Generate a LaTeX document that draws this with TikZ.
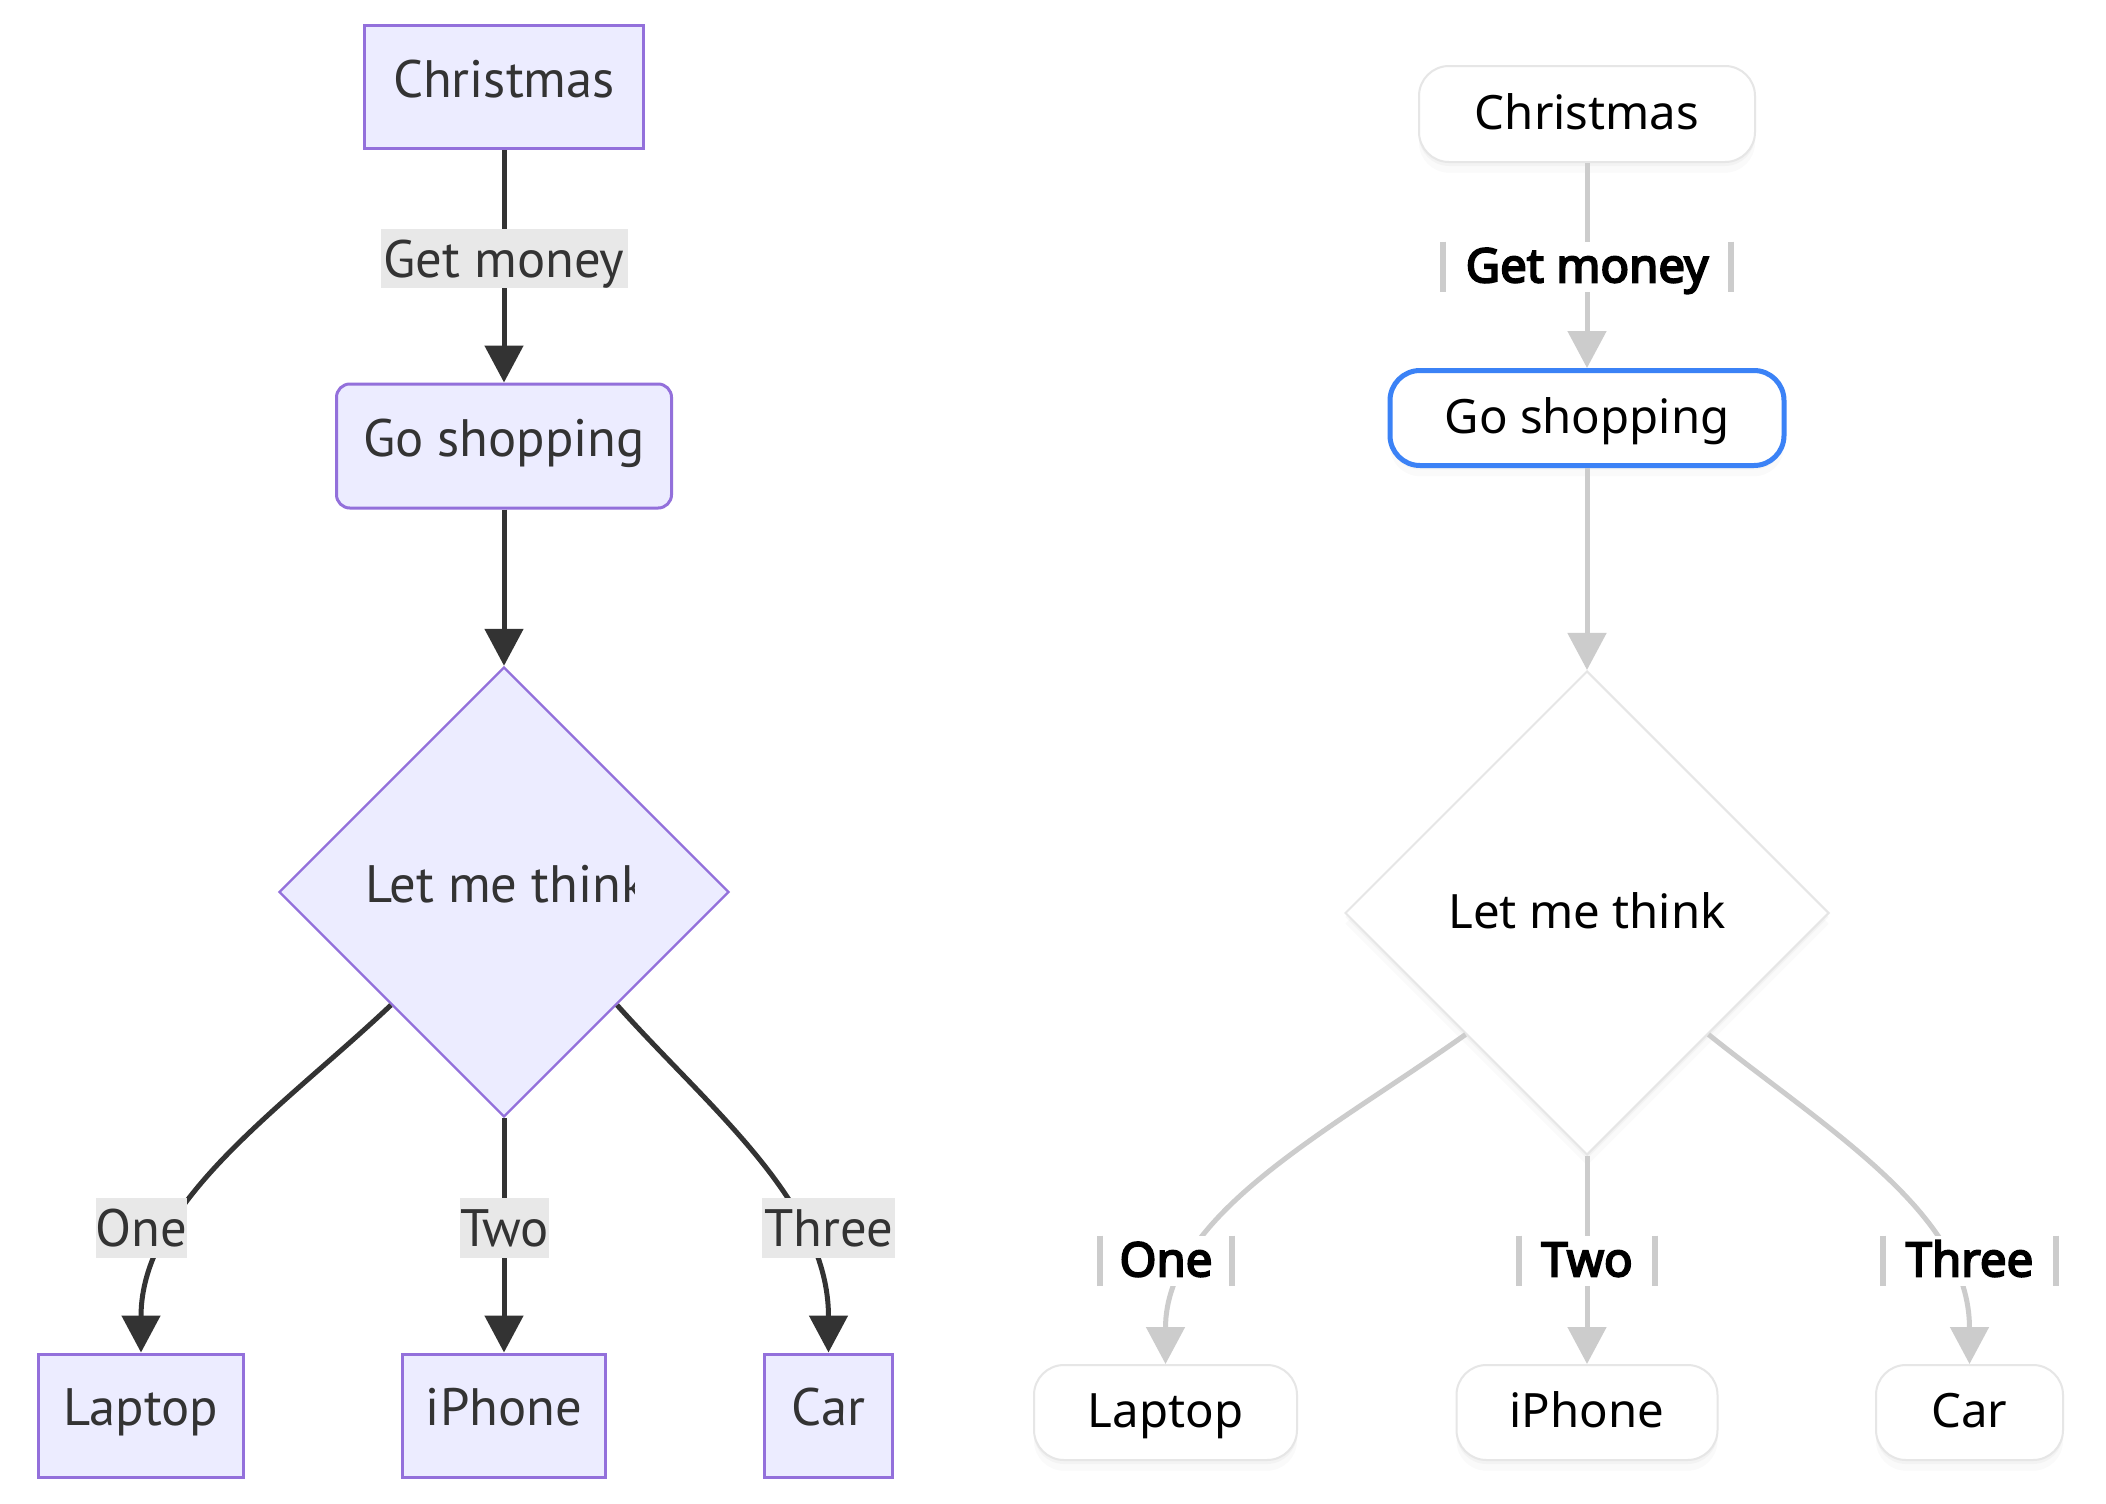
\documentclass[tikz,border=0pt]{standalone}
\usepackage{fontspec}
\setmainfont{PT Sans}
\newfontfamily\rightfont{Noto Sans}
\newfontfamily\rightboldfont{Noto Sans}[FakeBold=4]
\usetikzlibrary{arrows.meta,shapes.geometric,shadows}
\definecolor{lpurple}{HTML}{9370DB}
\definecolor{lfill}{HTML}{ECECFF}
\definecolor{ltext}{HTML}{333333}
\definecolor{llabbg}{HTML}{E8E8E8}
\definecolor{rgray}{HTML}{CCCCCC}
\definecolor{rborder}{HTML}{E6E6E6}
\definecolor{rblue}{HTML}{3B82F6}
\def\pxu{0.75pt}
\tikzset{
  lfont/.style={font=\fontsize{39.5}{47}\selectfont, text=ltext},
  lbox/.style={lfont, draw=lpurple, fill=lfill, line width=2.25pt, inner sep=0pt, text height=30pt, text depth=15pt},
  lrbox/.style={lbox, rounded corners=10pt},
  ldia/.style={diamond, aspect=1, draw=lpurple, fill=lfill, line width=1.8pt, inner sep=0pt, minimum width=450*\pxu, minimum height=450*\pxu},
  ltxt/.style={lfont, inner sep=0pt, text height=30pt, text depth=15pt},
  llab/.style={lfont, fill=llabbg, inner sep=0pt, text height=34pt, text depth=6pt},
  ledge/.style={draw=ltext, line width=3.75pt, -{Triangle[length=27.75pt,width=28.5pt]}},
  rfont/.style={font=\rightfont\fontsize{35.5}{43}\selectfont, text=black},
  rshadow/.style={drop shadow={opacity=0.05, shadow xshift=0pt, shadow yshift=-3pt}, drop shadow={opacity=0.04, shadow xshift=0pt, shadow yshift=-8pt}},
  rbox/.style={rfont, draw=rborder, fill=white, line width=1.5pt, rounded corners=22.5pt, inner sep=0pt, text height=34pt, text depth=11pt, rshadow},
  rdia/.style={diamond, aspect=1, rfont, draw=rborder, fill=white, line width=1.5pt, inner sep=0pt, text height=34pt, text depth=11pt, minimum width=484*\pxu, minimum height=484*\pxu, rshadow},
  rlab/.style={font=\rightboldfont\fontsize{35.5}{43}\selectfont, text=black, fill=white, inner sep=0pt, text height=30pt, text depth=7pt},
  rbar/.style={draw=rgray, line width=4.5pt},
  redge/.style={draw=rgray, line width=3.75pt, -{Triangle[length=27.75pt,width=28.5pt]}}
}
\begin{document}
\begin{tikzpicture}[x=0.75pt,y=-0.75pt]
\useasboundingbox[fill=white] (0,0) rectangle (2106,1503);
% ---------- left diagram ----------
\node[lbox, minimum width=279*\pxu, minimum height=123*\pxu] (c1) at (504,87) {Christmas};
\node[lrbox, minimum width=335*\pxu, minimum height=124*\pxu] (gs1) at (504,446) {Go shopping};
\node[ldia] (d1) at (504,892) {};
\begin{scope}
  \clip (280,840) rectangle (634,950);
  \node[ltxt, anchor=west] (t1) at (365,892) {Let me think};
\end{scope}
\node[lbox, minimum width=205*\pxu, minimum height=123*\pxu] (lap1) at (141,1415.5) {Laptop};
\node[lbox, minimum width=203*\pxu, minimum height=123*\pxu] (ip1) at (504,1415.5) {iPhone};
\node[lbox, minimum width=128*\pxu, minimum height=123*\pxu] (car1) at (828.5,1415.5) {Car};
\draw[ledge] (c1) -- (gs1);
\draw[ledge] (gs1) -- (d1);
\draw[ledge] (d1) -- (ip1);
\draw[ledge] (d1.south west) .. controls +(-110,104) and +(0,-150) .. (lap1.north);
\draw[ledge] (d1.south east) .. controls +(93,104) and +(0,-150) .. (car1.north);
\node[llab, minimum width=247*\pxu, minimum height=59*\pxu] (gm1) at (504,258.5) {Get money};
\node[llab, minimum width=89*\pxu, minimum height=60*\pxu] (one1) at (141.5,1228) {One};
\node[llab, minimum width=87*\pxu, minimum height=60*\pxu] (two1) at (504.5,1228) {Two};
\node[llab, minimum width=133*\pxu, minimum height=60*\pxu] (three1) at (828.5,1228) {Three};
% ---------- right diagram ----------
\node[rbox, minimum width=336*\pxu, minimum height=96*\pxu] (c2) at (1587,114) {Christmas};
\node[rbox, draw=rblue, line width=3.75pt, minimum width=394*\pxu, minimum height=95*\pxu] (gs2) at (1587,418) {Go shopping};
\node[rdia] (d2) at (1587,913) {Let me think};
\node[rbox, minimum width=263*\pxu, minimum height=95*\pxu] (lap2) at (1165.5,1412.5) {Laptop};
\node[rbox, minimum width=261*\pxu, minimum height=95*\pxu] (ip2) at (1587,1412.5) {iPhone};
\node[rbox, minimum width=187*\pxu, minimum height=95*\pxu] (car2) at (1969.5,1412.5) {Car};
\draw[redge] (c2) -- (gs2);
\draw[redge] (gs2) -- (d2);
\draw[redge] (d2) -- (ip2);
\draw[redge] (d2.south west) .. controls +(-135,96) and +(0,-150) .. (lap2.north);
\draw[redge] (d2.south east) .. controls +(120,96) and +(0,-150) .. (car2.north);
\node[rlab, minimum width=288*\pxu, minimum height=50*\pxu] (gm2) at (1587,267) {Get money};
\node[rlab, minimum width=132*\pxu, minimum height=50*\pxu] (one2) at (1166,1261) {One};
\node[rlab, minimum width=136*\pxu, minimum height=50*\pxu] (two2) at (1587,1261) {Two};
\node[rlab, minimum width=173*\pxu, minimum height=50*\pxu] (three2) at (1969.5,1261) {Three};
\foreach \n in {gm2,one2,two2,three2}{
  \draw[rbar] (\n.north west) -- (\n.south west);
  \draw[rbar] (\n.north east) -- (\n.south east);
}
\end{tikzpicture}
\end{document}
